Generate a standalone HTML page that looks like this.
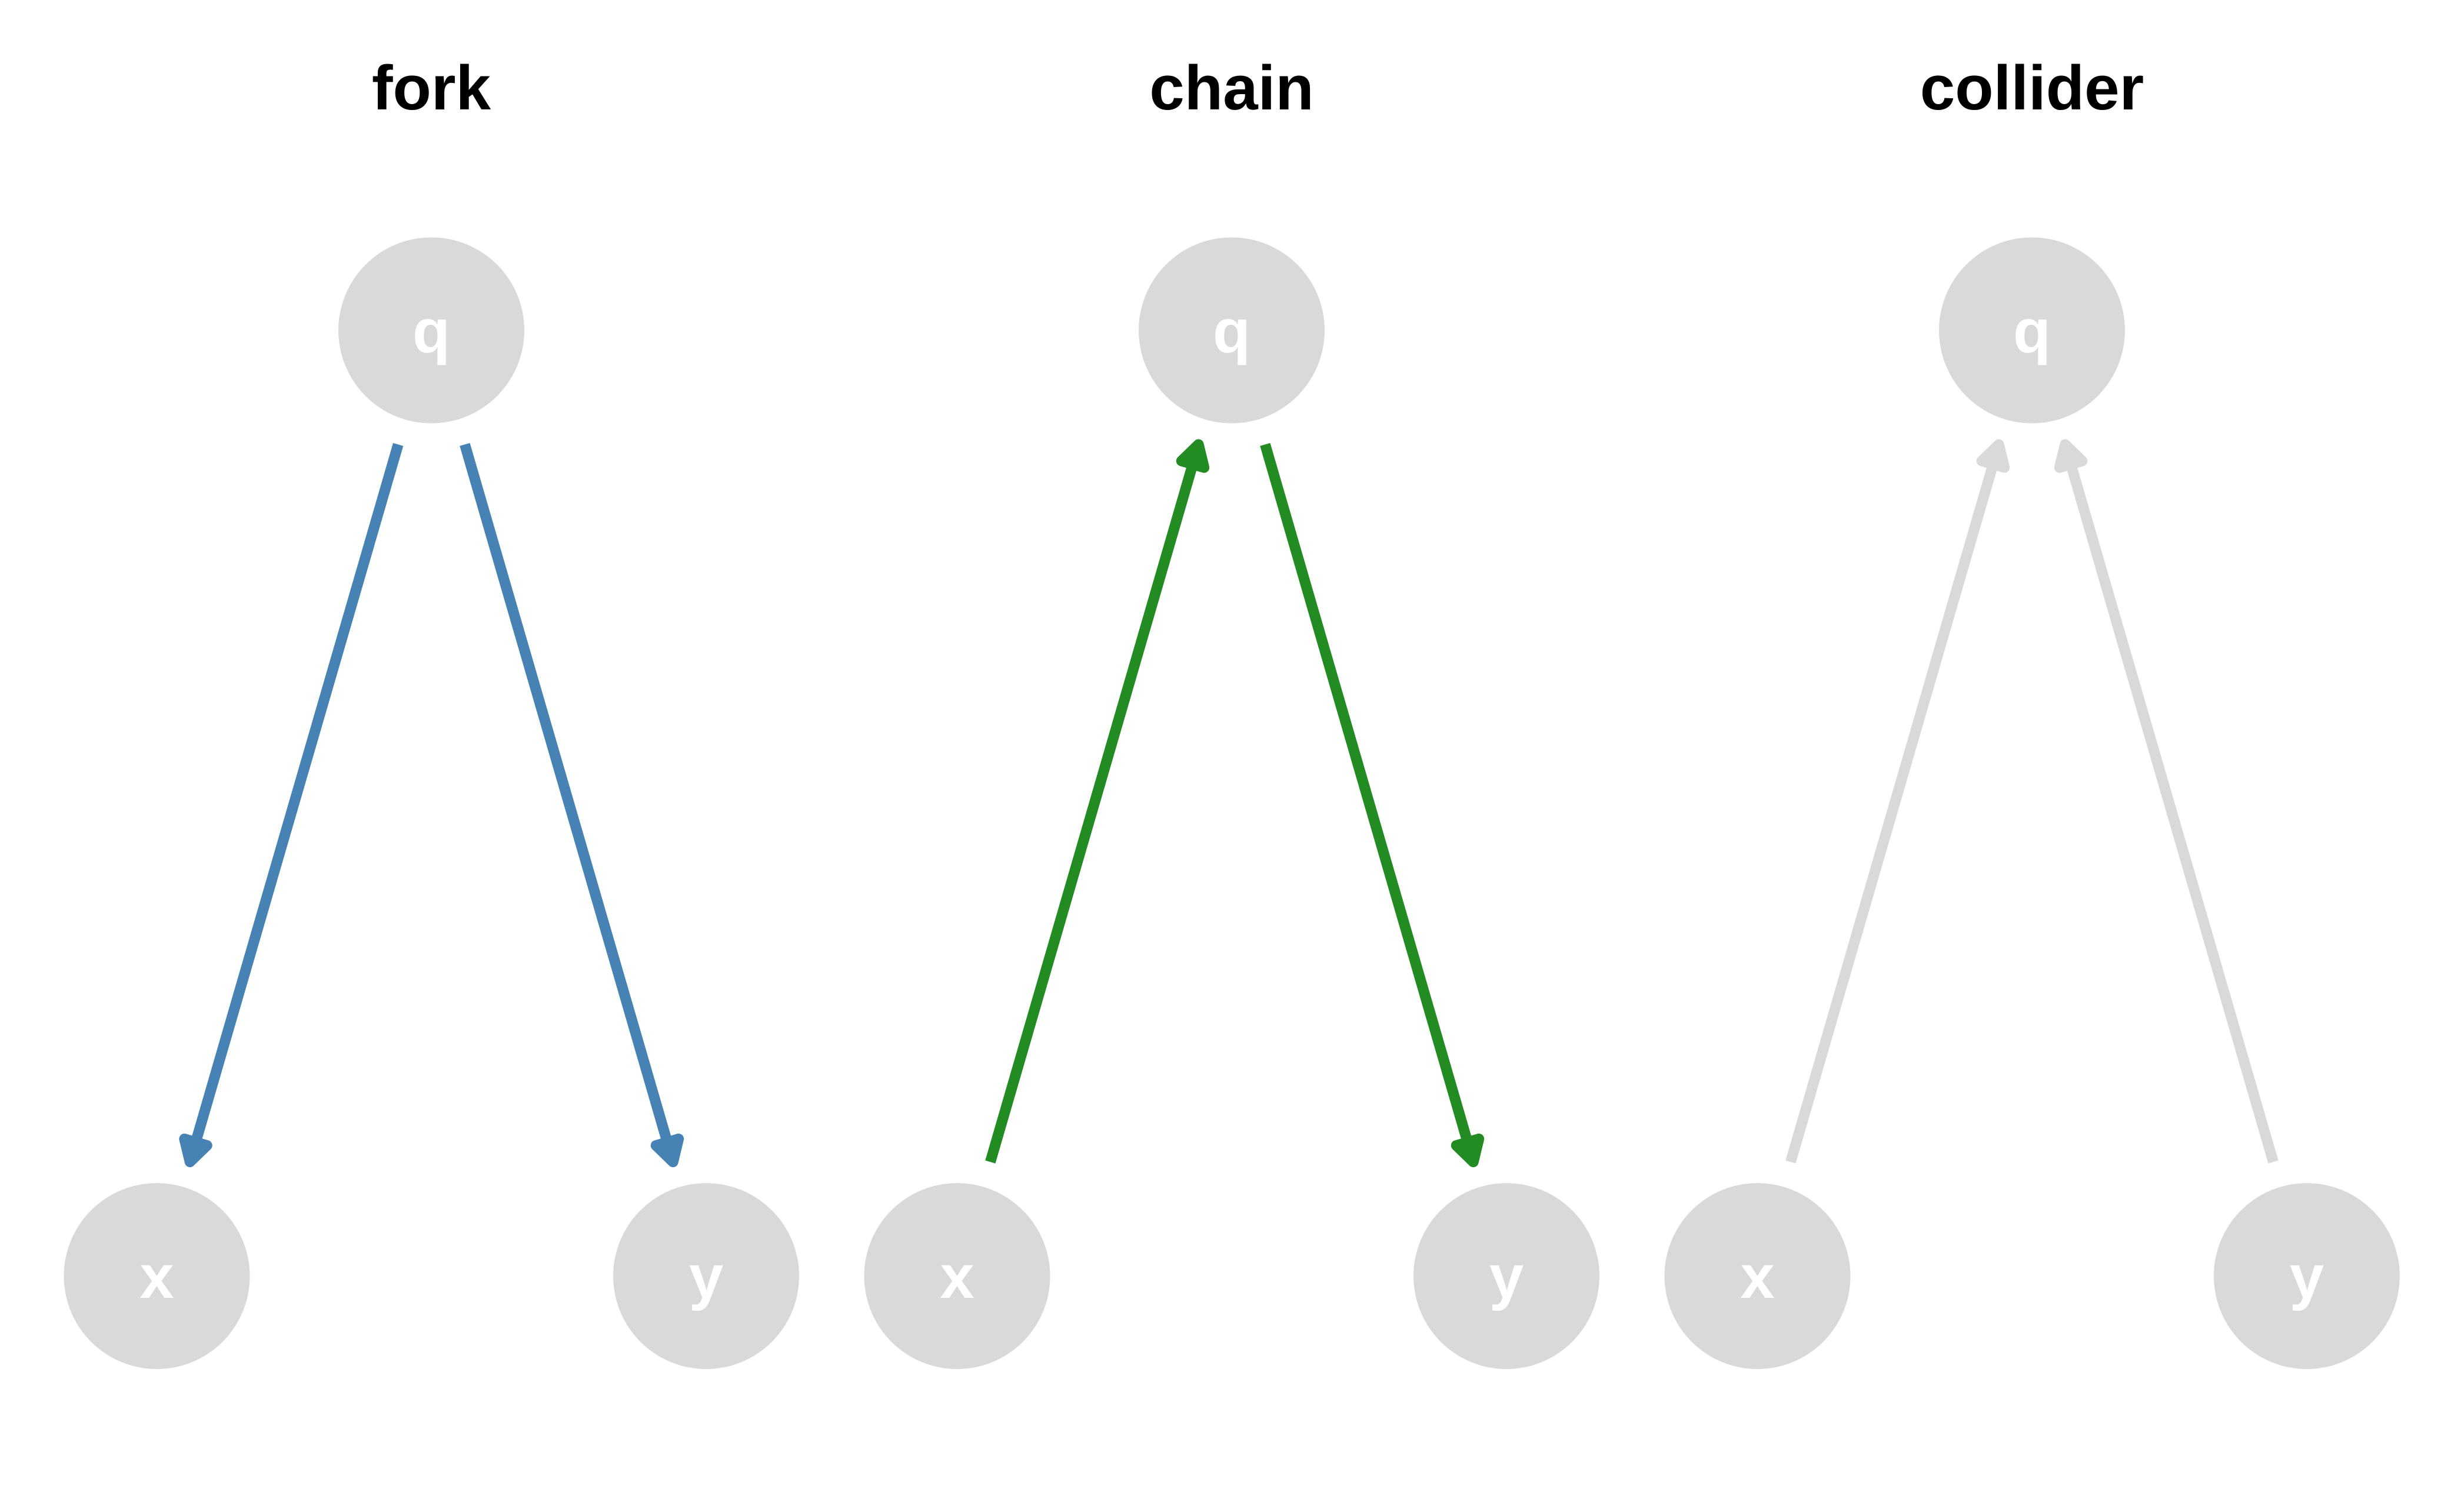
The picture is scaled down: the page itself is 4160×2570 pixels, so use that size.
<!DOCTYPE html>
<html>
<head>
<meta charset="utf-8">
<style>
  html, body { margin: 0; padding: 0; background: #ffffff; }
  svg { display: block; }
  .title { font-family: "Liberation Sans", Arial, sans-serif; font-weight: bold; font-size: 107px; fill: #000000; }
  .lbl { font-family: "Liberation Sans", Arial, sans-serif; font-weight: bold; font-size: 105px; fill: #ffffff; }
</style>
</head>
<body>
<svg width="4160" height="2570" viewBox="0 0 4160 2570" xmlns="http://www.w3.org/2000/svg">
  <rect x="0" y="0" width="4160" height="2570" fill="#ffffff"/>

  <!-- Titles -->
  <text class="title" x="733" y="186" text-anchor="middle">fork</text>
  <text class="title" x="2093" y="186" text-anchor="middle">chain</text>
  <text class="title" x="3453" y="186" text-anchor="middle">collider</text>

  <!-- Nodes -->
  <g fill="#d9d9d9">
    <circle cx="733" cy="561.5" r="158"/>
    <circle cx="266.5" cy="2169" r="158"/>
    <circle cx="1200" cy="2169" r="158"/>

    <circle cx="2093" cy="561.5" r="158"/>
    <circle cx="1626.5" cy="2169" r="158"/>
    <circle cx="2560" cy="2169" r="158"/>

    <circle cx="3453" cy="561.5" r="158"/>
    <circle cx="2986.5" cy="2169" r="158"/>
    <circle cx="3920" cy="2169" r="158"/>
  </g>

  <!-- Node labels -->
  <text class="lbl" x="733" y="598.5" text-anchor="middle">q</text>
  <text class="lbl" x="266.5" y="2206" text-anchor="middle">x</text>
  <text class="lbl" x="1200" y="2206" text-anchor="middle">y</text>

  <text class="lbl" x="2093" y="598.5" text-anchor="middle">q</text>
  <text class="lbl" x="1626.5" y="2206" text-anchor="middle">x</text>
  <text class="lbl" x="2560" y="2206" text-anchor="middle">y</text>

  <text class="lbl" x="3453" y="598.5" text-anchor="middle">q</text>
  <text class="lbl" x="2986.5" y="2206" text-anchor="middle">x</text>
  <text class="lbl" x="3920" y="2206" text-anchor="middle">y</text>

  <!-- Edges: local frame, tip at origin, pointing +x -->
  <!-- fork: q -> x -->
  <g transform="translate(322.8,1975) rotate(106.18)" stroke="#4682b4" fill="#4682b4">
    <line x1="-1269.8" y1="0" x2="-20" y2="0" stroke-width="18" stroke-linecap="butt"/>
    <polygon points="0,0 -35,-20 -35,20" stroke-width="18" stroke-linejoin="round"/>
  </g>
  <!-- fork: q -> y -->
  <g transform="translate(1143.7,1975) rotate(73.82)" stroke="#4682b4" fill="#4682b4">
    <line x1="-1269.8" y1="0" x2="-20" y2="0" stroke-width="18" stroke-linecap="butt"/>
    <polygon points="0,0 -35,-20 -35,20" stroke-width="18" stroke-linejoin="round"/>
  </g>

  <!-- chain: x -> q -->
  <g transform="translate(2036.7,755.5) rotate(-73.82)" stroke="#228b22" fill="#228b22">
    <line x1="-1269.8" y1="0" x2="-20" y2="0" stroke-width="18" stroke-linecap="butt"/>
    <polygon points="0,0 -35,-20 -35,20" stroke-width="18" stroke-linejoin="round"/>
  </g>
  <!-- chain: q -> y -->
  <g transform="translate(2503.7,1975) rotate(73.82)" stroke="#228b22" fill="#228b22">
    <line x1="-1269.8" y1="0" x2="-20" y2="0" stroke-width="18" stroke-linecap="butt"/>
    <polygon points="0,0 -35,-20 -35,20" stroke-width="18" stroke-linejoin="round"/>
  </g>

  <!-- collider: x -> q -->
  <g transform="translate(3396.7,755.5) rotate(-73.82)" stroke="#d9d9d9" fill="#d9d9d9">
    <line x1="-1269.8" y1="0" x2="-20" y2="0" stroke-width="18" stroke-linecap="butt"/>
    <polygon points="0,0 -35,-20 -35,20" stroke-width="18" stroke-linejoin="round"/>
  </g>
  <!-- collider: y -> q -->
  <g transform="translate(3509.3,755.5) rotate(-106.18)" stroke="#d9d9d9" fill="#d9d9d9">
    <line x1="-1269.8" y1="0" x2="-20" y2="0" stroke-width="18" stroke-linecap="butt"/>
    <polygon points="0,0 -35,-20 -35,20" stroke-width="18" stroke-linejoin="round"/>
  </g>
</svg>
</body>
</html>
